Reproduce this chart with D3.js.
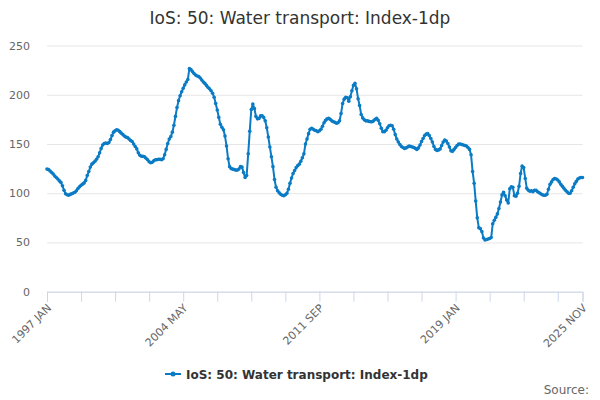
<!DOCTYPE html>
<html>
<head>
<meta charset="utf-8">
<script src="https://cdn.jsdelivr.net/npm/d3@7"></script>
<style>
    body { margin: 0; background: #fff; }
    text { font-family: "DejaVu Sans", sans-serif; }
</style>
</head>
<body>
<script>
//month names used in the category labels
var monthNames = ["JAN", "FEB", "MAR", "APR", "MAY", "JUN",
    "JUL", "AUG", "SEP", "OCT", "NOV", "DEC"];

//first and last year of the series (ends 2025 NOV)
var firstYear = 1997,
    lastYear = 2025,
    lastMonth = 10;

//index values, one row per year
var values = [
    124.5, 124.0, 122.5, 121.0, 119.5, 117.5, 116.0, 114.5, 112.5, 111.0, 107.5, 103.0, //1997
    99.5, 98.5, 98.0, 98.8, 99.5, 100.2, 101.0, 102.5, 104.8, 106.5, 108.0, 109.2,     //1998
    110.5, 113.0, 118.0, 122.0, 126.5, 129.5, 131.0, 132.5, 134.5, 137.0, 141.0, 145.5, //1999
    149.0, 150.5, 151.0, 150.5, 151.5, 154.5, 158.5, 162.0, 163.5, 164.5, 164.0, 162.5, //2000
    161.0, 159.5, 158.0, 157.0, 156.5, 155.0, 153.5, 152.5, 150.0, 147.5, 145.0, 141.0, //2001
    138.5, 137.5, 137.5, 137.0, 135.5, 134.0, 132.0, 131.0, 131.5, 133.0, 134.0, 134.0, //2002
    134.5, 134.5, 134.0, 135.0, 139.0, 144.5, 150.5, 155.0, 157.5, 162.0, 169.0, 178.0, //2003
    187.0, 194.0, 199.0, 203.0, 206.5, 210.0, 213.0, 215.5, 226.5, 225.5, 223.5, 221.5, //2004
    220.0, 219.0, 218.5, 217.0, 215.0, 213.0, 211.5, 209.5, 207.5, 206.0, 204.0, 201.5, //2005
    197.5, 191.0, 184.5, 177.0, 170.0, 167.0, 164.5, 158.0, 148.0, 135.0, 127.0, 125.0, //2006
    124.5, 124.0, 123.5, 123.5, 124.5, 127.0, 126.5, 121.0, 116.0, 118.0, 140.0, 163.0, //2007
    185.0, 190.5, 186.0, 178.0, 175.5, 176.0, 178.5, 178.5, 177.0, 173.5, 166.5, 157.0, //2008
    147.0, 137.0, 127.0, 114.0, 106.0, 102.5, 100.5, 99.0, 98.0, 97.5, 98.5, 100.0,     //2009
    104.0, 110.0, 115.5, 120.0, 123.0, 126.0, 128.0, 129.5, 132.5, 136.0, 140.0, 150.0, //2010
    155.0, 160.5, 165.0, 166.0, 165.0, 164.0, 163.5, 162.5, 163.5, 165.0, 168.0, 171.5, //2011
    174.0, 175.5, 176.0, 175.0, 173.5, 172.5, 172.0, 171.0, 171.5, 173.5, 181.0, 191.0, //2012
    195.5, 197.5, 197.0, 193.5, 198.0, 204.0, 209.5, 211.5, 206.0, 196.0, 189.0, 180.0, //2013
    176.5, 174.5, 173.5, 173.5, 173.0, 172.5, 172.5, 173.5, 175.0, 176.0, 174.0, 170.5, //2014
    166.0, 162.5, 162.5, 164.0, 166.5, 168.5, 169.0, 168.5, 165.0, 159.5, 155.0, 152.0, //2015
    149.5, 147.5, 146.5, 145.5, 146.0, 147.0, 148.0, 147.5, 147.0, 146.5, 145.5, 144.5, //2016
    146.0, 149.0, 152.5, 155.5, 158.5, 160.0, 160.5, 158.5, 155.5, 152.0, 147.5, 144.5, //2017
    143.5, 144.0, 145.0, 148.5, 152.0, 154.0, 153.0, 150.5, 147.0, 143.0, 142.5, 144.5, //2018
    146.5, 148.5, 150.0, 150.0, 149.5, 149.0, 148.5, 148.0, 146.5, 144.5, 139.0, 122.0, //2019
    110.0, 92.0, 75.0, 65.0, 64.0, 61.0, 54.5, 52.5, 53.0, 53.5, 54.0, 55.0,            //2020
    69.0, 72.5, 75.5, 79.0, 84.5, 91.0, 98.5, 101.0, 97.5, 93.0, 90.0, 104.5,           //2021
    106.5, 106.0, 97.5, 97.0, 100.0, 107.0, 120.0, 127.5, 126.0, 115.0, 105.0, 103.0,   //2022
    102.0, 102.5, 101.5, 103.0, 103.0, 101.5, 100.5, 99.5, 98.5, 98.0, 98.0, 99.0,      //2023
    104.0, 109.0, 111.5, 114.0, 115.0, 114.5, 113.5, 111.5, 109.0, 107.0, 105.0, 103.0, //2024
    101.5, 100.0, 100.0, 102.5, 106.0, 109.5, 112.0, 114.5, 115.5, 116.0, 116.0         //2025
];

//y axis tick values
var yTicks = [0, 50, 100, 150, 200, 250];

//execute script when window is loaded
window.onload = function(){

    //SVG dimensions
    var w = 600,
        h = 400;

    //plot area edges
    var left = 47,
        right = 582.5,
        top = 45.5,
        bottom = 291.7;

    //build the category labels ("1997 JAN" ... "2025 NOV")
    var categories = [];
    for (var y = firstYear; y <= lastYear; y++){
        monthNames.forEach(function(m, i){
            if (y < lastYear || i <= lastMonth){
                categories.push(y + " " + m);
            }
        });
    }

    var data = categories.map(function(c, i){
        return { label: c, value: values[i] };
    });

    var container = d3.select("body")
        .append("svg")
        .attr("width", w)
        .attr("height", h);

    //x scale on the categories
    var x = d3.scalePoint()
        .domain(categories)
        .range([left, right]);

    //y scale
    var y = d3.scaleLinear()
        .domain([0, 250])
        .range([bottom, top]);

    //title
    container.append("text")
        .attr("x", 300)
        .attr("y", 24)
        .attr("text-anchor", "middle")
        .style("font-size", "17px")
        .style("fill", "#333333")
        .text("IoS: 50: Water transport: Index-1dp");

    //y axis with gridlines
    var yAxis = d3.axisLeft(y)
        .tickValues(yTicks)
        .tickSize(-(right - left))
        .tickPadding(17);

    var yG = container.append("g")
        .attr("transform", "translate(" + left + ",0)")
        .call(yAxis);

    yG.select(".domain").remove();
    yG.selectAll(".tick line")
        .style("stroke", "#e6e6e6");
    yG.selectAll(".tick text")
        .style("font-size", "11px")
        .style("fill", "#666666")
        .style("font-family", "DejaVu Sans, sans-serif");

    //x axis ticks every 22 months plus the last month
    var xTickValues = categories.filter(function(c, i){
        return i % 22 === 0 || i === categories.length - 1;
    });
    var labelled = categories.filter(function(c, i){
        return i % 88 === 0 || i === categories.length - 1;
    });

    var xAxis = d3.axisBottom(x)
        .tickValues(xTickValues)
        .tickSize(10)
        .tickFormat("");

    var xG = container.append("g")
        .attr("transform", "translate(0," + bottom + ")")
        .call(xAxis);

    xG.select(".domain")
        .style("stroke", "#ccd6eb");
    xG.selectAll(".tick line")
        .style("stroke", "#ccd6eb");

    //rotated x labels
    container.selectAll(".xLabel")
        .data(labelled)
        .enter()
        .append("text")
        .attr("class", "xLabel")
        .attr("text-anchor", "end")
        .attr("transform", function(d){
            return "translate(" + (x(d) + 5) + "," + (bottom + 17) + ") rotate(-45)";
        })
        .style("font-size", "11px")
        .style("fill", "#666666")
        .text(function(d){ return d; });

    //line generator
    var line = d3.line()
        .x(function(d){ return x(d.label); })
        .y(function(d){ return y(d.value); });

    var blue = "#0a7bc4";

    container.append("path")
        .datum(data)
        .attr("d", line)
        .style("fill", "none")
        .style("stroke", blue)
        .style("stroke-width", 2)
        .style("stroke-linejoin", "round");

    //point markers
    container.selectAll(".dot")
        .data(data)
        .enter()
        .append("circle")
        .attr("class", "dot")
        .attr("cx", function(d){ return x(d.label); })
        .attr("cy", function(d){ return y(d.value); })
        .attr("r", 1.8)
        .style("fill", blue);

    //legend
    var legend = container.append("g")
        .attr("transform", "translate(165,374)");

    legend.append("line")
        .attr("x1", 0)
        .attr("x2", 16)
        .attr("y1", 0)
        .attr("y2", 0)
        .style("stroke", blue)
        .style("stroke-width", 2);

    legend.append("circle")
        .attr("cx", 8)
        .attr("cy", 0)
        .attr("r", 2.5)
        .style("fill", blue);

    legend.append("text")
        .attr("x", 21)
        .attr("y", 4.5)
        .style("font-size", "12px")
        .style("font-weight", "bold")
        .style("fill", "#333333")
        .text("IoS: 50: Water transport: Index-1dp");

    //source credit
    container.append("text")
        .attr("x", 589)
        .attr("y", 394)
        .attr("text-anchor", "end")
        .style("font-size", "12px")
        .style("fill", "#666666")
        .text("Source:");
};
</script>
</body>
</html>
